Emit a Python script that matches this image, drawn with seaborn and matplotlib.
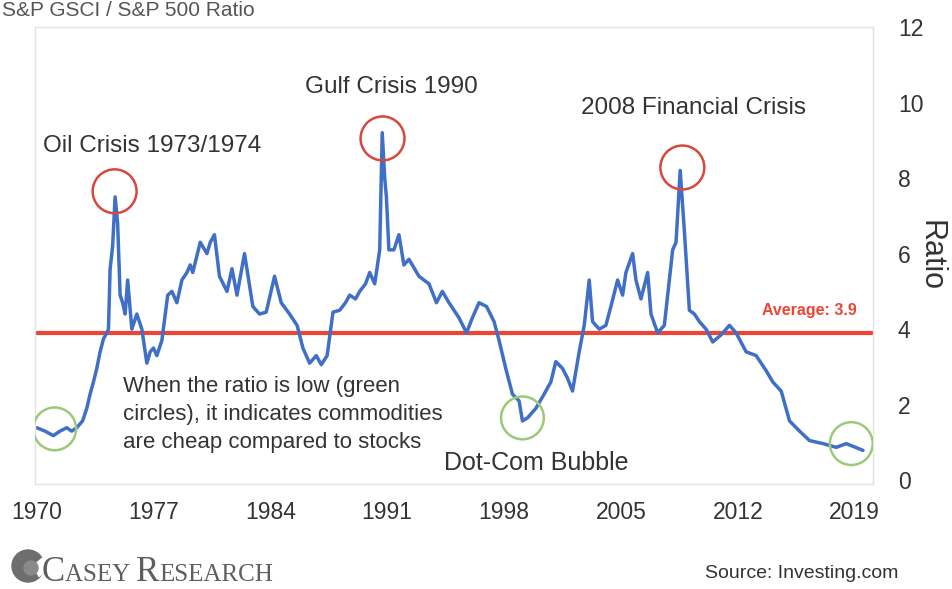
import matplotlib
matplotlib.use("Agg")
import matplotlib.pyplot as plt
import seaborn as sns
import pandas as pd
from matplotlib.patches import Circle, Wedge
from matplotlib.transforms import IdentityTransform

# Commodities / S&P 500 ratio, read at irregular dates
years = [1970.0, 1970.5, 1971.0, 1971.4, 1971.8, 1972.1, 1972.4, 1972.75, 1973.0, 1973.2,
         1973.4, 1973.6, 1973.8, 1974.0, 1974.2, 1974.3, 1974.4, 1974.55, 1974.7, 1974.85,
         1975.0, 1975.15, 1975.3, 1975.45, 1975.7, 1976.0, 1976.3, 1976.6, 1976.8, 1977.0,
         1977.2, 1977.5, 1977.85, 1978.1, 1978.4, 1978.7, 1979.0, 1979.2, 1979.35, 1979.8,
         1980.2, 1980.4, 1980.65, 1980.95, 1981.4, 1981.7, 1982.0, 1982.45, 1982.95, 1983.35,
         1983.75, 1984.25, 1984.65, 1985.15, 1985.6, 1985.95, 1986.35, 1986.75, 1987.05, 1987.4,
         1987.75, 1988.15, 1988.5, 1988.75, 1989.1, 1989.35, 1989.7, 1989.95, 1990.25, 1990.55,
         1990.7, 1990.85, 1990.95, 1991.1, 1991.4, 1991.7, 1992.0, 1992.3, 1992.9, 1993.5,
         1993.95, 1994.3, 1994.7, 1995.3, 1995.75, 1996.1, 1996.5, 1996.95, 1997.4, 1997.7,
         1998.1, 1998.5, 1998.9, 1999.1, 1999.4, 1999.9, 2000.4, 2000.8, 2001.1, 2001.5,
         2001.8, 2002.1, 2002.5, 2002.8, 2003.1, 2003.3, 2003.7, 2004.1, 2004.4, 2004.8,
         2005.1, 2005.3, 2005.7, 2005.9, 2006.2, 2006.6, 2006.8, 2007.2, 2007.6, 2008.1,
         2008.3, 2008.55, 2008.8, 2009.1, 2009.4, 2009.7, 2010.1, 2010.5, 2011.0, 2011.5,
         2011.9, 2012.5, 2013.1, 2013.7, 2014.1, 2014.6, 2015.1, 2015.7, 2016.3, 2017.1,
         2017.9, 2018.5, 2019.0, 2019.5]
ratio = [1.39, 1.30, 1.18, 1.30, 1.39, 1.30, 1.39, 1.57, 1.90, 2.28,
         2.60, 2.96, 3.40, 3.74, 3.90, 4.00, 5.60, 6.20, 7.50, 6.80,
         4.90, 4.70, 4.40, 5.30, 4.00, 4.40, 4.00, 3.10, 3.40, 3.50,
         3.30, 3.70, 4.90, 5.00, 4.70, 5.30, 5.50, 5.70, 5.50, 6.30,
         6.00, 6.30, 6.50, 5.40, 5.00, 5.60, 4.90, 6.00, 4.60, 4.40,
         4.45, 5.40, 4.70, 4.40, 4.10, 3.50, 3.10, 3.30, 3.06, 3.30,
         4.45, 4.50, 4.70, 4.90, 4.80, 5.00, 5.20, 5.50, 5.20, 6.10,
         9.20, 8.00, 7.50, 6.10, 6.10, 6.50, 5.70, 5.85, 5.40, 5.20,
         4.70, 5.00, 4.70, 4.30, 3.90, 4.30, 4.70, 4.60, 4.20, 3.70,
         2.96, 2.28, 2.10, 1.57, 1.65, 1.90, 2.28, 2.60, 3.14, 2.96,
         2.70, 2.36, 3.40, 4.10, 5.30, 4.20, 4.00, 4.10, 4.60, 5.30,
         4.90, 5.50, 6.00, 5.30, 4.80, 5.50, 4.40, 3.90, 4.10, 6.10,
         6.30, 8.20, 6.60, 4.50, 4.40, 4.20, 4.00, 3.66, 3.85, 4.10,
         3.90, 3.40, 3.30, 2.90, 2.60, 2.36, 1.57, 1.30, 1.05, 0.97,
         0.87, 0.97, 0.88, 0.79]
average = 3.9
tick_years = [1970, 1977, 1984, 1991, 1998, 2005, 2012, 2019]
tick_ratio = [0, 2, 4, 6, 8, 10, 12]

# Highlighted peaks (red) and troughs (green)
peak_x = [1974.67, 1990.72, 2008.68]
peak_y = [7.65, 9.05, 8.28]
trough_x = [1971.08, 1999.1, 2018.8]
trough_y = [1.36, 1.65, 0.97]

df = pd.DataFrame({"year": years, "ratio": ratio})

sns.set_theme(style="white")
plt.rcParams["font.family"] = ["Liberation Sans", "DejaVu Sans"]
TXT = "#333333"
W, H = 952, 589

fig = plt.figure(figsize=(9.52, 5.89), dpi=100)
ax = fig.add_axes([35 / W, 1 - 484 / H, (873 - 35) / W, (484 - 27) / H])

sns.lineplot(data=df, x="year", y="ratio", ax=ax, color="#3f6fc6", linewidth=2.5)
ax.axhline(average, color="#ee4433", linewidth=3, zorder=1)

ax.scatter(peak_x, peak_y, s=1000, facecolors="none", edgecolors="#d9473d", linewidths=1.8, zorder=4)
ax.scatter(trough_x, trough_y, s=950, facecolors="none", edgecolors="#9cc97a", linewidths=1.8, zorder=4)

ax.set_xlim(1969.9, 2020.1)
ax.set_ylim(-0.1, 12.0)
ax.set_xticks(tick_years)
ax.set_xticklabels([str(y) for y in tick_years])
ax.set_yticks(tick_ratio)
ax.yaxis.tick_right()
ax.yaxis.set_label_position("right")
ax.tick_params(axis="both", length=0, labelsize=16.5, labelcolor=TXT)
ax.tick_params(axis="x", pad=12)
ax.tick_params(axis="y", pad=18)
ax.set_xlabel("")
ax.set_ylabel("Ratio", fontsize=22, color=TXT, rotation=-90, labelpad=16)
for sp in ax.spines.values():
    sp.set_color("#e4e4e4")
    sp.set_linewidth(1.0)

ax.text(1970.36, 8.85, "Oil Crisis 1973/1974", fontsize=17.5, color=TXT, va="center", ha="left")
ax.text(1986.05, 10.4, "Gulf Crisis 1990", fontsize=17.5, color=TXT, va="center", ha="left")
ax.text(2002.63, 9.85, "2008 Financial Crisis", fontsize=17.5, color=TXT, va="center", ha="left")
ax.text(2019.1, 4.5, "Average: 3.9", fontsize=11.5, color="#ee4433", fontweight="bold",
        va="center", ha="right")
ax.text(1975.15, 2.75, "When the ratio is low (green\ncircles), it indicates commodities\nare cheap compared to stocks",
        fontsize=16, color=TXT, va="top", ha="left", linespacing=1.42)
ax.text(1994.43, 0.45, "Dot-Com Bubble", fontsize=18, color=TXT, va="center", ha="left")

# Title along the top edge
fig.text(2 / W, 1 - 1 / H, "S&P GSCI / S&P 500 Ratio", fontsize=15, color="#555555",
         ha="left", va="top")

# Publisher mark and source
px = IdentityTransform()
fig.patches.append(Circle((28, H - 566), 16, color="#6e6e6e", transform=px))
fig.patches.append(Wedge((33, H - 566), 12, 300, 40, color="white", transform=px))
fig.patches.append(Circle((31, H - 568), 7, color="#8a8a8a", transform=px))

serif = ["Liberation Serif", "DejaVu Serif"]
parts = [("C", 25), ("ASEY ", 18), ("R", 25), ("ESEARCH", 18)]
renderer = fig.canvas.get_renderer()
xpos = 42 / W
for s, fs in parts:
    t = fig.text(xpos, 1 - 581 / H, s, fontsize=fs, family=serif, color="#5e5e5e",
                 ha="left", va="baseline")
    bb = t.get_window_extent(renderer=renderer)
    xpos += bb.width / W
fig.text(898 / W, 1 - 573 / H, "Source: Investing.com", fontsize=14, color=TXT,
         ha="right", va="center")

fig.savefig("out.png", dpi=100)
